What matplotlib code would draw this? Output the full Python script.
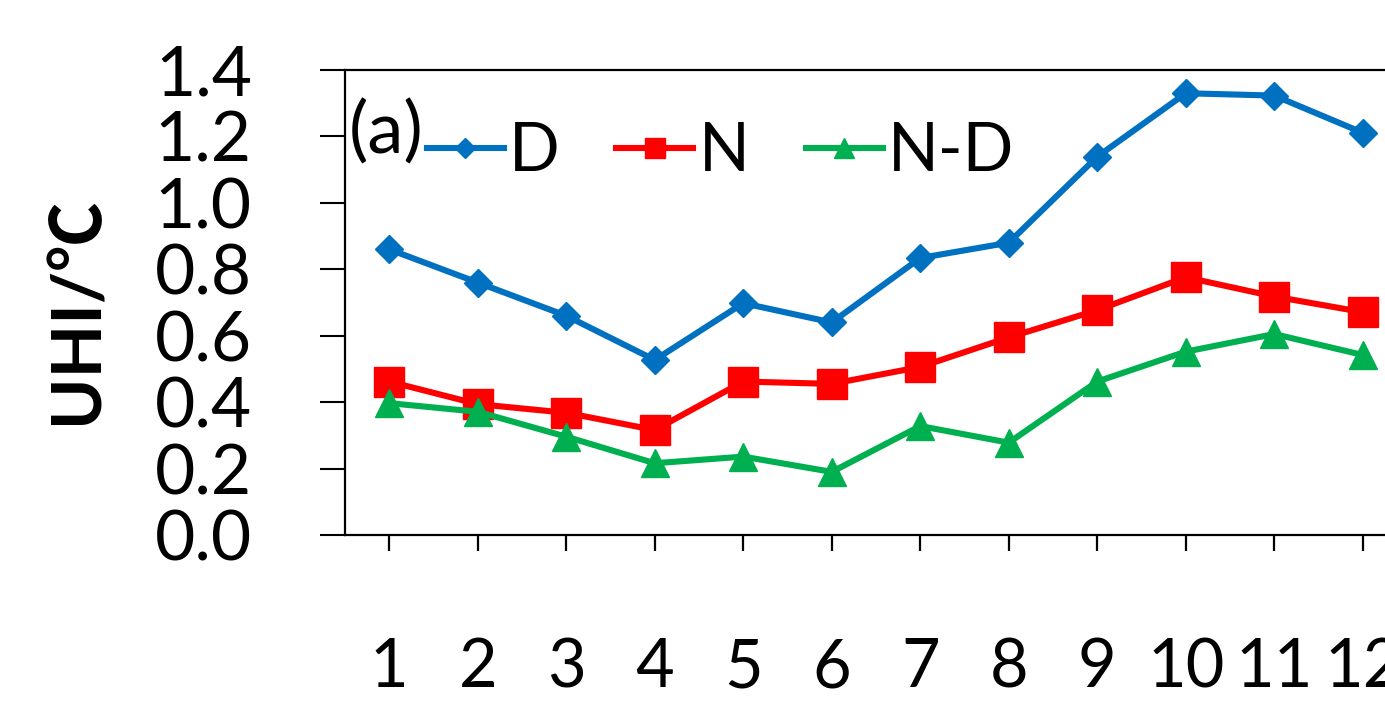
import matplotlib
matplotlib.use("Agg")
import matplotlib.pyplot as plt
from matplotlib.lines import Line2D

months = [1, 2, 3, 4, 5, 6, 7, 8, 9, 10, 11, 12]
month_labels = ["1", "2", "3", "4", "5", "6", "7", "8", "9", "10", "11", "12"]
uhi_d = [0.86, 0.76, 0.66, 0.527, 0.698, 0.64, 0.834, 0.88, 1.139, 1.33, 1.323, 1.211]
uhi_n = [0.462, 0.394, 0.368, 0.316, 0.462, 0.455, 0.506, 0.595, 0.677, 0.776, 0.718, 0.671]
uhi_nd = [0.397, 0.371, 0.296, 0.216, 0.236, 0.19, 0.328, 0.278, 0.462, 0.552, 0.605, 0.542]
yticks = [0.0, 0.2, 0.4, 0.6, 0.8, 1.0, 1.2, 1.4]
series_names = ["D", "N", "N-D"]

FAM = ["Lato", "Noto Sans CJK SC", "DejaVu Sans"]
plt.rcParams["font.family"] = FAM

W, H = 1385, 703
fig = plt.figure(figsize=(W / 100, H / 100), dpi=100)
ax = fig.add_axes([345 / W, (H - 535) / H, (1407 - 345) / W, (535 - 70) / H])

blue, red, green = "#0070C0", "#FF0000", "#00B050"
LW = 4.4
ax.plot(months, uhi_d, color=blue, lw=LW, marker="D", ms=14, zorder=3)
ax.plot(months, uhi_n, color=red, lw=LW, marker="s", ms=21, zorder=3)
ax.plot(months, uhi_nd, color=green, lw=LW, marker="^", ms=20, zorder=3)

ax.set_xlim(0.5, 12.5)
ax.set_ylim(0, 1.4)
ax.set_yticks(yticks)
ax.set_yticklabels([f"{v:.1f}" for v in yticks])
ax.set_xticks(months)
ax.set_xticklabels(month_labels)
for s in ["left", "top", "bottom", "right"]:
    ax.spines[s].set_linewidth(1.6)
ax.tick_params(axis="y", direction="out", length=18, width=1.5, pad=49, labelsize=50)
ax.tick_params(axis="x", direction="out", length=11.5, width=1.6, pad=62, labelsize=48)
for lab in ax.get_xticklabels():
    lab.set_fontstretch("condensed")

handles = [
    Line2D([], [], color=blue, lw=LW, marker="D", ms=10),
    Line2D([], [], color=red, lw=LW, marker="s", ms=15),
    Line2D([], [], color=green, lw=LW, marker="^", ms=14),
]
fig.legend(handles, series_names, loc="center left", bbox_to_anchor=(427 / W, 1 - 152 / H),
           ncol=3, frameon=False, fontsize=48, handlelength=1.15, handletextpad=0.08,
           columnspacing=0.85, borderpad=0, borderaxespad=0)

fig.text(349 / W, 1 - 132 / H, "(a)", fontsize=52, ha="left", va="center")
fig.text(78 / W, 1 - 310 / H, "UHI/℃", fontsize=50, fontweight="bold", rotation=90,
         ha="center", va="center")

fig.savefig("out.png", dpi=100)
